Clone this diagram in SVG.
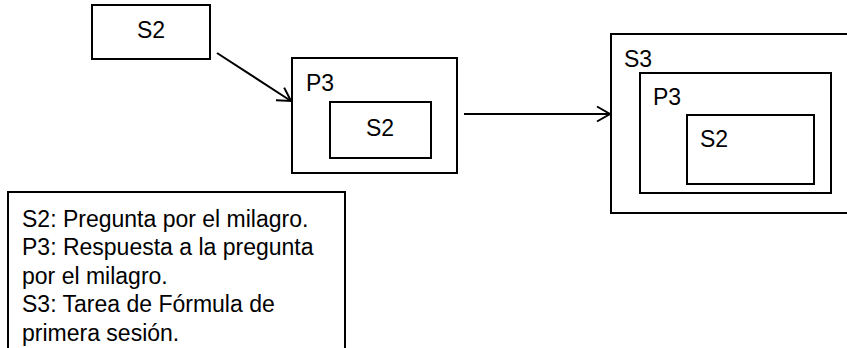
<svg xmlns="http://www.w3.org/2000/svg" width="847" height="348" viewBox="0 0 847 348">
<style>
.box{fill:#fff;stroke:#000;stroke-width:2}
.lbl{font-family:"Liberation Sans",Arial,sans-serif;font-size:23px;fill:#000}
.leg{font-family:"Liberation Sans",Arial,sans-serif;font-size:23px;fill:#000}
.con{fill:none;stroke:#000;stroke-width:2}
</style>
<defs>
<marker id="arr" markerUnits="userSpaceOnUse" markerWidth="20" markerHeight="20" viewBox="-16 -10 20 20" refX="0" refY="0" orient="auto">
<path d="M-13,-7.5 L0,0 L-13,7.5" fill="none" stroke="#000" stroke-width="2"/>
</marker>
</defs>
<rect width="847" height="348" fill="#fff"/>
<g id="s2-top">
<rect class="box" x="92" y="5" width="118" height="54"/>
<text class="lbl" x="151" y="38" text-anchor="middle">S2</text>
</g>
<g id="p3-mid">
<rect class="box" x="292" y="58" width="165" height="115"/>
<text class="lbl" x="306" y="91">P3</text>
<rect class="box" x="330" y="102" width="101" height="56"/>
<text class="lbl" x="380" y="136" text-anchor="middle">S2</text>
</g>
<g id="s3-right">
<rect class="box" x="611" y="34" width="240" height="179"/>
<text class="lbl" x="624" y="67">S3</text>
<rect class="box" x="640" y="73" width="191" height="120"/>
<text class="lbl" x="653" y="105">P3</text>
<rect class="box" x="687" y="115" width="127" height="69"/>
<text class="lbl" x="700" y="147">S2</text>
</g>
<g id="connectors">
<line class="con" x1="217" y1="53" x2="291" y2="101" marker-end="url(#arr)"/>
<line class="con" x1="464" y1="114" x2="610" y2="114" marker-end="url(#arr)"/>
</g>
<g id="legend">
<path class="con" d="M8,352 V192 H345 V352"/>
<text class="leg" x="22" y="227">S2: Pregunta por el milagro.</text>
<text class="leg" x="22" y="255">P3: Respuesta a la pregunta</text>
<text class="leg" x="22" y="284">por el milagro.</text>
<text class="leg" x="22" y="312">S3: Tarea de Fórmula de</text>
<text class="leg" x="22" y="341">primera sesión.</text>
</g>
</svg>
